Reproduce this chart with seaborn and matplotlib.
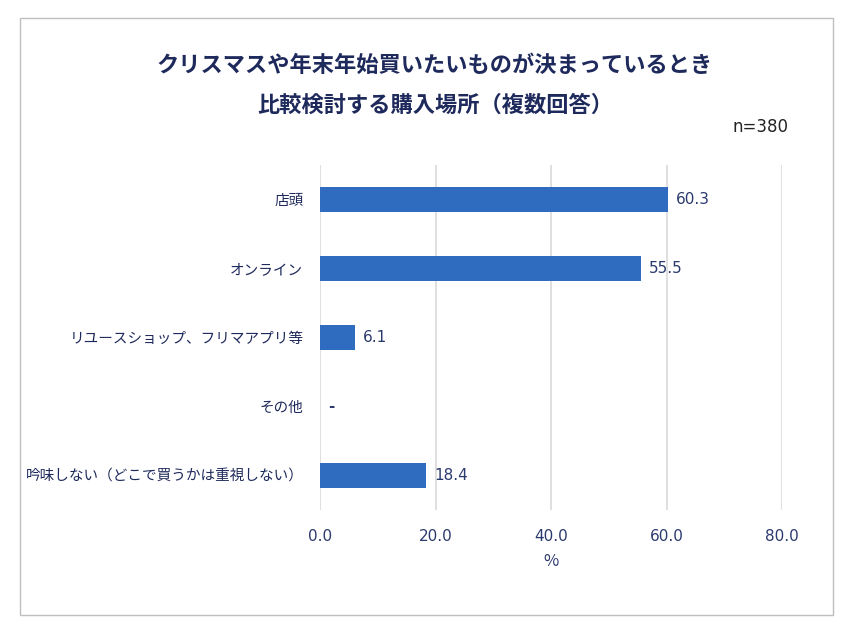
import numpy as np
import pandas as pd
import seaborn as sns
import matplotlib.pyplot as plt
from matplotlib.patches import Rectangle

# data
categories = ["店頭", "オンライン", "リユースショップ、フリマアプリ等", "その他",
              "吟味しない（どこで買うかは重視しない）"]
values = [60.3, 55.5, 6.1, 0.0, 18.4]
value_labels = ["60.3", "55.5", "6.1", "-", "18.4"]
x_ticks = [0, 20, 40, 60, 80]

df = pd.DataFrame({"place": categories, "pct": values})

sns.set_theme(style="white")
plt.rcParams['font.family'] = ['Noto Sans CJK JP', 'DejaVu Sans']

navy = "#1f2a5c"
bar_color = "#2f6bbf"

fig = plt.figure(figsize=(8.5, 6.3), dpi=100)
ax = fig.add_axes([320 / 850, 1 - 510 / 630, 462 / 850, 345 / 630])

sns.barplot(data=df, x="pct", y="place", color=bar_color, width=0.36,
            saturation=1, linewidth=0, ax=ax)

ax.set_xlim(0, 80)
ax.set_ylim(4.5, -0.5)
ax.set_xticks(x_ticks)
ax.set_xticklabels([f"{t:.1f}" for t in x_ticks], color="#2b3a6e", fontsize=11,
                   family=['DejaVu Sans'])
ax.tick_params(axis="x", length=0, pad=14)
ax.tick_params(axis="y", length=0, pad=12, labelsize=10.5, labelcolor=navy)
ax.set_xlabel("%", color="#2b3a6e", fontsize=12, labelpad=6)
ax.set_ylabel("")

ax.grid(axis="x", color="#d9d9d9", linewidth=1.2)
ax.set_axisbelow(True)
for s in ax.spines.values():
    s.set_visible(False)

for i, (v, lab) in enumerate(zip(values, value_labels)):
    ax.text(v + 1.4, i, lab, va="center", ha="left", fontsize=11,
            color="#2b3a6e", family=['DejaVu Sans'],
            fontweight="bold" if lab == "-" else "normal")

fig.text(435 / 850, 1 - 65 / 630, "クリスマスや年末年始買いたいものが決まっているとき",
         ha="center", va="center", fontsize=16, fontweight="bold", color=navy)
fig.text(435 / 850, 1 - 105 / 630, "比較検討する購入場所（複数回答）",
         ha="center", va="center", fontsize=16, fontweight="bold", color=navy)
fig.text(760 / 850, 1 - 127 / 630, "n=380", ha="center", va="center",
         fontsize=12, color="#222222", family=['DejaVu Sans'])

fig.patches.append(Rectangle((20 / 850, 1 - 615 / 630), 813 / 850, 597 / 630,
                             transform=fig.transFigure, fill=False,
                             edgecolor="#bfbfbf", linewidth=1))

fig.savefig("out.png", dpi=100)
